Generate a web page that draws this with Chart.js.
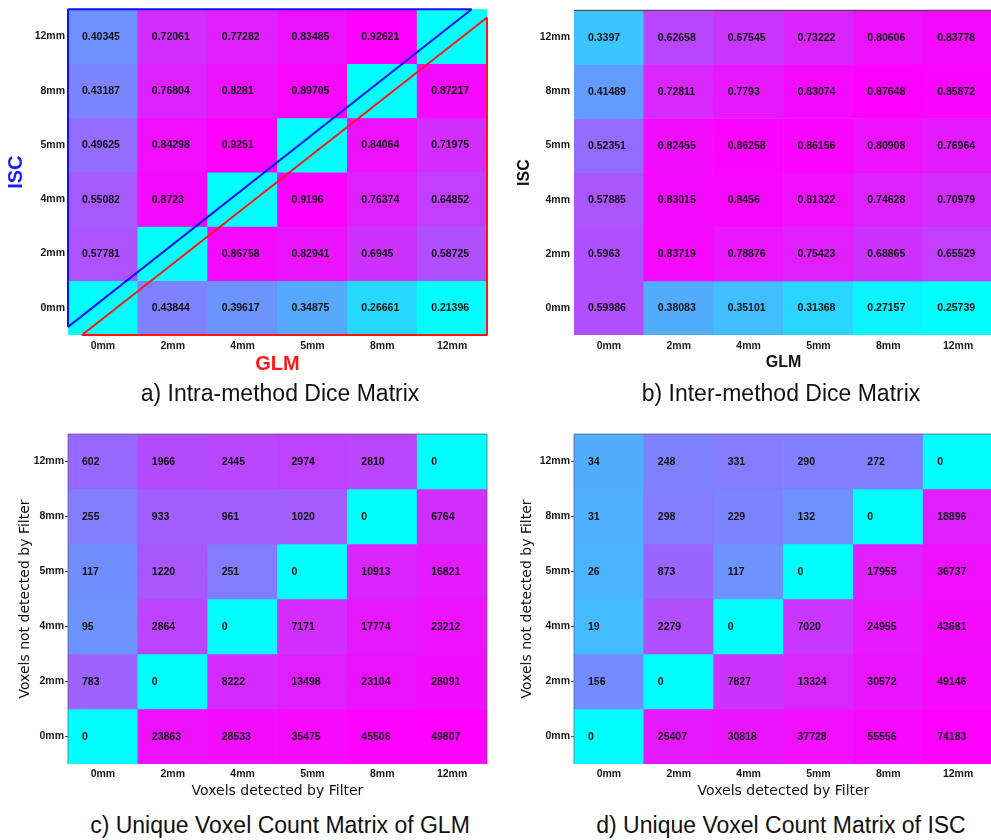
<!DOCTYPE html>
<html>
<head>
<meta charset="utf-8">
<script src="https://cdn.jsdelivr.net/npm/chart.js@4/dist/chart.umd.min.js"></script>
<style>
  html, body { margin: 0; padding: 0; background: #fff; width: 991px; height: 840px; overflow: hidden; }
  .panel { position: absolute; }
  .panel canvas { display: block; }
  .caption {
    position: absolute; white-space: nowrap; color: #111;
    font-family: "Liberation Sans", Arial, sans-serif; font-size: 23px;
    transform: translate(-50%, -50%);
  }
</style>
</head>
<body>
<div class="panel" style="left:0;top:0"><canvas id="intra" width="495" height="380"></canvas></div>
<div class="panel" style="left:500px;top:0"><canvas id="inter" width="495" height="380"></canvas></div>
<div class="panel" style="left:0;top:420px"><canvas id="glm" width="495" height="380"></canvas></div>
<div class="panel" style="left:500px;top:420px"><canvas id="isc" width="495" height="380"></canvas></div>

<div class="caption" style="left:280px;top:393px">a) Intra-method Dice Matrix</div>
<div class="caption" style="left:781px;top:393px">b) Inter-method Dice Matrix</div>
<div class="caption" style="left:280px;top:825px">c) Unique Voxel Count Matrix of GLM</div>
<div class="caption" style="left:781px;top:825px">d) Unique Voxel Count Matrix of ISC</div>

<script>
// Filter sizes along each axis; rows are listed top to bottom.
const colLabels = ['0mm', '2mm', '4mm', '5mm', '8mm', '12mm'];
const rowLabels = ['12mm', '8mm', '5mm', '4mm', '2mm', '0mm'];

// Dice overlap between GLM (columns) and ISC (rows) maps, same method (null on the diagonal).
const intraDice = [
  [0.40345, 0.72061, 0.77282, 0.83485, 0.92621, null],
  [0.43187, 0.76804, 0.8281, 0.89705, null, 0.87217],
  [0.49625, 0.84298, 0.9251, null, 0.84064, 0.71975],
  [0.55082, 0.8723, null, 0.9196, 0.76374, 0.64852],
  [0.57781, null, 0.86758, 0.82941, 0.6945, 0.58725],
  [null, 0.43844, 0.39617, 0.34875, 0.26661, 0.21396]
];

// Dice overlap between the two methods.
const interDice = [
  [0.3397, 0.62658, 0.67545, 0.73222, 0.80606, 0.83778],
  [0.41489, 0.72811, 0.7793, 0.83074, 0.87648, 0.85872],
  [0.52351, 0.82455, 0.86258, 0.86156, 0.80908, 0.76964],
  [0.57885, 0.83015, 0.8456, 0.81322, 0.74628, 0.70979],
  [0.5963, 0.83719, 0.78876, 0.75423, 0.68865, 0.65529],
  [0.59986, 0.38083, 0.35101, 0.31368, 0.27157, 0.25739]
];

// Voxels found with the column filter but not with the row filter.
const glmCounts = [
  [602, 1966, 2445, 2974, 2810, 0],
  [255, 933, 961, 1020, 0, 6764],
  [117, 1220, 251, 0, 10913, 16821],
  [95, 2864, 0, 7171, 17774, 23212],
  [783, 0, 8222, 13498, 23104, 28091],
  [0, 23863, 28533, 35475, 45506, 49807]
];

const iscCounts = [
  [34, 248, 331, 290, 272, 0],
  [31, 298, 229, 132, 0, 18896],
  [26, 873, 117, 0, 17955, 36737],
  [19, 2279, 0, 7020, 24955, 43681],
  [156, 0, 7827, 13324, 30572, 49146],
  [0, 25407, 30818, 37728, 55556, 74183]
];

// "cool" colormap: cyan -> magenta
function cool(t) {
  t = Math.max(0, Math.min(1, t));
  return `rgb(${Math.round(255 * t)},${Math.round(255 * (1 - t))},255)`;
}
// log-scaled between the smallest and largest value; empty cells stay cyan
function diceColours(m) {
  const vals = m.flat().filter(v => v !== null);
  const lo = Math.min(...vals), hi = Math.max(...vals);
  return m.map(r => r.map(v => v === null ? cool(0) : cool(Math.log(v / lo) / Math.log(hi / lo))));
}
function countColours(m) {
  const hi = Math.max(...m.flat());
  return m.map(r => r.map(v => cool(Math.log1p(v) / Math.log1p(hi))));
}

const tickFont = { family: '"Liberation Sans", Arial, sans-serif', size: 10.5, weight: 'bold' };

// writes each cell's value at the left side of its bar
function cellTextPlugin(matrix) {
  return {
    id: 'cellText',
    afterDatasetsDraw(chart) {
      const ctx = chart.ctx;
      ctx.save();
      ctx.font = 'bold 10.5px "Liberation Sans", Arial, sans-serif';
      ctx.fillStyle = '#111';
      ctx.textAlign = 'left';
      ctx.textBaseline = 'middle';
      chart.data.datasets.forEach((ds, k) => {
        chart.getDatasetMeta(k).data.forEach((el, j) => {
          const v = matrix[k][j];
          if (v === null) return;
          const p = el.getProps(['x', 'y', 'base', 'width'], true);
          ctx.fillText(String(v), p.x - p.width / 2 + 14, (p.y + p.base) / 2 + 0.5);
        });
      });
      ctx.restore();
    }
  };
}

// outline pieces drawn in data units (column units along x, row units along y)
function outlinePlugin(paths) {
  return {
    id: 'outline',
    afterDatasetsDraw(chart) {
      const xs = chart.scales.x, ys = chart.scales.y, ctx = chart.ctx;
      const px = u => xs.left + u / colLabels.length * xs.width;
      const py = v => ys.getPixelForValue(v);
      ctx.save();
      ctx.lineJoin = 'bevel';
      paths.forEach(p => {
        ctx.beginPath();
        p.pts.forEach((q, i) => i ? ctx.lineTo(px(q[0]), py(q[1])) : ctx.moveTo(px(q[0]), py(q[1])));
        if (p.closed) ctx.closePath();
        ctx.strokeStyle = p.color;
        ctx.lineWidth = p.width;
        ctx.stroke();
      });
      ctx.restore();
    }
  };
}

function makePanel(id, matrix, colours, o) {
  const n = rowLabels.length;
  const datasets = rowLabels.map((r, k) => ({
    label: r,
    data: colLabels.map(() => [n - 1 - k, n - k]),
    backgroundColor: colours[k],
    borderWidth: 0,
    grouped: false,
    barPercentage: 1,
    categoryPercentage: 1
  }));
  return new Chart(document.getElementById(id), {
    type: 'bar',
    data: { labels: colLabels, datasets },
    plugins: [cellTextPlugin(matrix), outlinePlugin(o.outline)],
    options: {
      responsive: false,
      animation: false,
      devicePixelRatio: 1,
      layout: { padding: { top: o.padTop, right: o.padRight, left: 0, bottom: 0 } },
      plugins: { legend: { display: false }, tooltip: { enabled: false } },
      scales: {
        x: {
          type: 'category',
          grid: { display: false, drawTicks: false },
          border: { display: false },
          ticks: { font: tickFont, color: '#1a1a1a', padding: o.xLabelPad, autoSkip: false, maxRotation: 0 },
          title: { display: true, text: o.xTitle.text, color: o.xTitle.color, font: o.xTitle.font,
                   padding: { top: 0, bottom: o.xTitle.pad } },
          afterFit: s => { s.height = o.xHeight; }
        },
        y: {
          type: 'linear', min: 0, max: n,
          grid: o.tickMarks
            ? { display: true, drawOnChartArea: false, drawTicks: true, tickLength: 3, color: '#555' }
            : { display: false, drawTicks: false },
          border: { display: false },
          afterBuildTicks: s => { s.ticks = rowLabels.map((r, k) => ({ value: n - 0.5 - k })); },
          ticks: {
            font: tickFont, color: '#1a1a1a', padding: o.yLabelPad, autoSkip: false,
            callback: v => rowLabels[n - 1 - Math.floor(v)]
          },
          title: { display: true, text: o.yTitle.text, color: o.yTitle.color, font: o.yTitle.font,
                   padding: { top: o.yTitle.pad, bottom: 0 } },
          afterFit: s => { s.width = o.yWidth; }
        }
      }
    }
  });
}

const boldSans = size => ({ family: '"Liberation Sans", Arial, sans-serif', size, weight: 'bold' });
const plainSans = { family: '"DejaVu Sans", sans-serif', size: 14, weight: 'normal' };

const boxEdges = [
  { pts: [[0, 0], [0, 6], [6, 6], [6, 0]], color: 'rgba(90,90,120,0.75)', width: 1 }
];

makePanel('intra', intraDice, diceColours(intraDice), {
  padTop: 5, padRight: 8, yWidth: 68, xHeight: 45, yLabelPad: 3, xLabelPad: 5, tickMarks: false,
  xTitle: { text: 'GLM', color: '#ff1a1a', font: boldSans(20), pad: 4 },
  yTitle: { text: 'ISC', color: '#1a1aff', font: boldSans(20), pad: 4 },
  outline: [
    { pts: [[0, 0.15], [0, 6], [5.78, 6]], closed: true, color: '#1010ff', width: 2 },
    { pts: [[0.2, 0], [6, 0], [6, 5.85]], closed: true, color: '#ff1515', width: 2 }
  ]
});

makePanel('inter', interDice, diceColours(interDice), {
  padTop: 5, padRight: 2, yWidth: 74, xHeight: 45, yLabelPad: 4, xLabelPad: 5, tickMarks: false,
  xTitle: { text: 'GLM', color: '#111', font: boldSans(16), pad: 8 },
  yTitle: { text: 'ISC', color: '#111', font: boldSans(16), pad: 15 },
  outline: [{ pts: [[0, 6], [6, 6]], color: '#333', width: 1 }]
});

makePanel('glm', glmCounts, countColours(glmCounts), {
  padTop: 14, padRight: 8, yWidth: 68, xHeight: 36, yLabelPad: 1, xLabelPad: 4, tickMarks: true,
  xTitle: { text: 'Voxels detected by Filter', color: '#111', font: plainSans, pad: 0 },
  yTitle: { text: 'Voxels not detected by Filter', color: '#111', font: plainSans, pad: 17 },
  outline: boxEdges
});

makePanel('isc', iscCounts, countColours(iscCounts), {
  padTop: 14, padRight: 2, yWidth: 74, xHeight: 36, yLabelPad: 1, xLabelPad: 4, tickMarks: true,
  xTitle: { text: 'Voxels detected by Filter', color: '#111', font: plainSans, pad: 0 },
  yTitle: { text: 'Voxels not detected by Filter', color: '#111', font: plainSans, pad: 19 },
  outline: boxEdges
});
</script>
</body>
</html>
